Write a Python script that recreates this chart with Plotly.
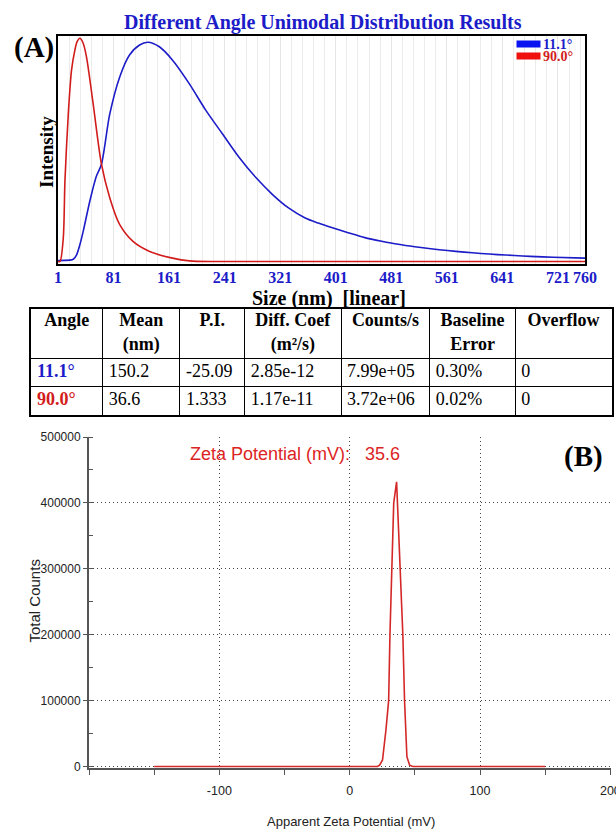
import plotly.graph_objects as go

# ---------------- data ----------------
# Panel A: intensity distributions (normalised), size in nm
size_111 = [1, 10, 18, 23, 27.8, 32.5, 37.3, 46.8, 56, 63.6, 75.5, 89.9, 104, 118.5, 130.4, 147, 166, 190,
            214, 238, 262, 286, 310, 333, 357, 376, 395, 420, 443, 467, 491, 515, 538, 562, 586, 610, 634,
            658, 681, 714, 760]
int_111 = [0.004, 0.005, 0.006, 0.01, 0.03, 0.075, 0.135, 0.27, 0.38, 0.436, 0.66, 0.827, 0.925, 0.97, 0.982,
           0.962, 0.902, 0.797, 0.677, 0.571, 0.466, 0.376, 0.30, 0.24, 0.195, 0.172, 0.152, 0.128, 0.107,
           0.091, 0.077, 0.066, 0.057, 0.049, 0.042, 0.036, 0.031, 0.027, 0.023, 0.019, 0.015]

size_900 = [1, 3.9, 8.6, 11, 15.8, 20.5, 25.3, 28.5, 32.5, 37, 42, 51.6, 63.6, 75.5, 89.9, 109, 133, 166,
            190, 230, 400, 760]
int_900 = [0, 0.0, 0.105, 0.36, 0.66, 0.857, 0.947, 0.985, 1.0, 0.98, 0.917, 0.707, 0.436, 0.286, 0.165,
           0.09, 0.045, 0.015, 0.003, 0.0, 0.0, 0.0]

size_ticks = [1, 81, 161, 241, 321, 401, 481, 561, 641, 721, 760]
series_names = ["11.1°", "90.0°"]

# Table
table_header = ["Angle", "Mean<br>(nm)", "P.I.", "Diff. Coef<br>(m²/s)", "Counts/s", "Baseline<br>Error", "Overflow"]
angles = ["11.1°", "90.0°"]
means = ["150.2", "36.6"]
pis = ["-25.09", "1.333"]
diff_coefs = ["2.85e-12", "1.17e-11"]
counts_s = ["7.99e+05", "3.72e+06"]
baseline_err = ["0.30%", "0.02%"]
overflow = ["0", "0"]

# Panel B: zeta potential distribution
zeta_mv = [-150, 21.3, 23, 25.2, 27.8, 29.9, 30.9, 32.5, 33.8, 36.0, 36.7, 39.0, 40.8, 42.1, 43.9, 46.0, 48.5, 150]
total_counts = [0, 0, 2000, 10000, 55000, 100000, 200000, 300000, 400000, 432000, 400000, 300000, 200000,
                100000, 15000, 2000, 0, 0]
zeta_ticks = [-100, 0, 100, 200]
zeta_ticktext = ["-100", "0", "100", "200"]
count_ticks = [0, 100000, 200000, 300000, 400000, 500000]
zeta_value = 35.6

# ---------------- layout helpers ----------------
W, H = 616, 829
def px(x):
    return x / W
def py(y):
    return 1 - y / H

BLUE = "#1c1cc8"
RED = "#d21c1c"
SERIF = "Liberation Serif, Times New Roman, serif"
SANS = "Liberation Sans, Arial, sans-serif"

# table geometry (style)
col_widths = [71.7, 77.2, 64.8, 96.3, 88.8, 85.5, 96.6]
row_heights = [49, 28.5, 28]
col_left = [sum(col_widths[:i]) for i in range(len(col_widths))]
col_center = [col_left[i] + col_widths[i] / 2 for i in range(len(col_widths))]
row_top = [sum(row_heights[:i]) for i in range(len(row_heights))]
row_center = [row_top[i] + row_heights[i] / 2 for i in range(len(row_heights))]
TW, TH = sum(col_widths), sum(row_heights)

fig = go.Figure()

# Panel A curves
fig.add_trace(go.Scatter(x=size_111, y=int_111, mode="lines",
                         line=dict(color=BLUE, width=1.6, shape="spline", smoothing=0.8),
                         name=series_names[0], showlegend=False, xaxis="x", yaxis="y"))
fig.add_trace(go.Scatter(x=size_900, y=int_900, mode="lines",
                         line=dict(color=RED, width=1.6, shape="spline", smoothing=0.8),
                         name=series_names[1], showlegend=False, xaxis="x", yaxis="y"))

# Table (text trace on its own axes; grid lines are the axis grid)
hdr_text = []
for h in table_header:
    parts = h.split("<br>")
    if len(parts) == 1:
        parts.append("\u00a0")
    hdr_text.append("<br>".join("<b>%s</b>" % p for p in parts))
fig.add_trace(go.Scatter(x=col_center, y=[row_center[0]] * len(hdr_text), text=hdr_text, mode="text",
                         textposition="middle center", cliponaxis=False, showlegend=False,
                         textfont=dict(family=SERIF, size=18, color="black"), xaxis="x3", yaxis="y3",
                         hoverinfo="skip"))
columns = [["<b>%s</b>" % a for a in angles], means, pis, diff_coefs, counts_s, baseline_err, overflow]
cx, cy, ct, cc = [], [], [], []
for j, col in enumerate(columns):
    for i, v in enumerate(col):
        cx.append(col_left[j] + 6)
        cy.append(row_center[i + 1])
        ct.append(v)
        cc.append([BLUE, RED][i] if j == 0 else "black")
fig.add_trace(go.Scatter(x=cx, y=cy, text=ct, mode="text", textposition="middle right", cliponaxis=False,
                         showlegend=False, textfont=dict(family=SERIF, size=18, color=cc),
                         xaxis="x3", yaxis="y3", hoverinfo="skip"))

# Panel B curve
fig.add_trace(go.Scatter(x=zeta_mv, y=total_counts, mode="lines", line=dict(color="#d42828", width=1.6),
                         showlegend=False, xaxis="x2", yaxis="y2", hoverinfo="skip"))

A_L, A_R, A_T, A_B = 58, 585, 35.5, 264
# y scale for A: value 0 at 261.5, 1.0 at 38.3
a_ppu = (261.5 - 38.3)
a_y0 = -(A_B - 261.5) / a_ppu
a_y1 = 1 + (38.3 - A_T) / a_ppu

B_L, B_R, B_T, B_B = 89, 611, 436.5, 768
b_ppu = (766.5 - 437) / 500000
b_y0 = -(B_B - 766.5) / b_ppu
b_y1 = 500000 + (437 - B_T) / b_ppu

grid_dot = "1px,3px"

annotations = [
    dict(text="<b>Different Angle Unimodal Distribution Results</b>", x=px(323), y=py(22),
         font=dict(family=SERIF, size=20, color=BLUE)),
    dict(text="<b>(A)</b>", x=px(34), y=py(47.5), font=dict(family=SERIF, size=29, color="black")),
    dict(text="<b>Intensity</b>", x=px(46.5), y=py(152.5), textangle=-90,
         font=dict(family=SERIF, size=19, color="black")),
    dict(text="<b>Size (nm)\u00a0\u00a0[linear]</b>", x=px(329), y=py(298),
         font=dict(family=SERIF, size=20, color="black")),
    dict(text="Zeta Potential (mV):\u00a0\u00a0\u00a0%.1f" % zeta_value, x=px(295), y=py(453.5),
         font=dict(family=SANS, size=18, color="#dd2424")),
    dict(text="<b>(B)</b>", x=px(583), y=py(457), font=dict(family=SERIF, size=29, color="black")),
    dict(text="Total Counts", x=px(34), y=py(601.5), textangle=-90,
         font=dict(family=SANS, size=15, color="#222")),
    dict(text="Apparent Zeta Potential (mV)", x=px(351), y=py(821),
         font=dict(family=SANS, size=13, color="#222")),
]
# legend (compact, as in the reference)
leg_colors = [("#0a14f0", BLUE), ("#f01010", RED)]
leg_y = [44, 55.5]
for k, name in enumerate(series_names):
    annotations.append(dict(text="\u00a0", x=px(A_R - 57), y=py(leg_y[k]), width=23, height=6,
                            bgcolor=leg_colors[k][0], borderpad=0, font=dict(size=4)))
    annotations.append(dict(text="<b>%s</b>" % name, x=px(A_R - 44), y=py(leg_y[k] + 1), xanchor="left",
                            font=dict(family=SERIF, size=14, color=leg_colors[k][1])))
for a in annotations:
    a.setdefault("xref", "paper")
    a.setdefault("yref", "paper")
    a.setdefault("showarrow", False)
    a.setdefault("xanchor", "center")
    a.setdefault("yanchor", "middle")

fig.update_layout(
    width=W, height=H, margin=dict(l=0, r=0, t=0, b=0, autoexpand=False),
    paper_bgcolor="white", plot_bgcolor="white",
    showlegend=False,
    xaxis=dict(domain=[px(A_L), px(A_R)], anchor="y", range=[1, 760], tickvals=size_ticks, tickangle=0,
               tickfont=dict(family=SERIF, size=16, color=BLUE, weight="bold"),
               ticks="", showgrid=True, gridcolor="#e6e6e6", gridwidth=1,
               minor=dict(tick0=1, dtick=16, showgrid=True, gridcolor="#ececec", gridwidth=1),
               showline=True, mirror=True, linecolor="black", linewidth=2, zeroline=False,
               automargin=False, ticklabelstandoff=-2, ticklabeloverflow="allow"),
    yaxis=dict(domain=[py(A_B), py(A_T)], anchor="x", range=[a_y0, a_y1], showticklabels=False,
               showgrid=False, zeroline=False, showline=True, mirror=True, linecolor="black", linewidth=2,
               ticks="", automargin=False),
    xaxis3=dict(domain=[px(31), px(31 + TW)], anchor="y3", range=[0, TW], tickvals=col_left[1:],
                showticklabels=False, ticks="", showgrid=True, gridcolor="black", gridwidth=1,
                showline=True, mirror=True, linecolor="black", linewidth=1.5, zeroline=False,
                automargin=False, fixedrange=True),
    yaxis3=dict(domain=[py(309 + TH), py(309)], anchor="x3", range=[TH, 0], tickvals=row_top[1:],
                showticklabels=False, ticks="", showgrid=True, gridcolor="black", gridwidth=1,
                showline=True, mirror=True, linecolor="black", linewidth=1.5, zeroline=False,
                automargin=False, fixedrange=True),
    xaxis2=dict(domain=[px(B_L), px(B_R)], anchor="y2", range=[-200, 200.5], tickvals=zeta_ticks,
                ticktext=zeta_ticktext, tickangle=0,
                ticks="outside", ticklen=5, tickcolor="#555", tickwidth=1,
                minor=dict(dtick=50, tick0=0, ticks="outside", ticklen=5, tickcolor="#555", showgrid=False),
                showline=True, linecolor="#555", linewidth=2, zeroline=False,
                showgrid=True, gridcolor="#444", gridwidth=1.3, griddash=grid_dot,
                tickfont=dict(family=SANS, size=12.5, color="#222"), ticklabelstandoff=5,
                ticklabeloverflow="allow", automargin=False),
    yaxis2=dict(domain=[py(B_B), py(B_T)], anchor="x2", range=[b_y0, b_y1],
                tickvals=count_ticks, tickformat="d",
                ticks="outside", ticklen=4, tickcolor="#555",
                minor=dict(dtick=50000, tick0=0, ticks="inside", ticklen=4, tickcolor="#555", showgrid=False),
                showline=True, linecolor="#555", linewidth=2, zeroline=False,
                showgrid=True, gridcolor="#444", gridwidth=1.3, griddash=grid_dot,
                tickfont=dict(family=SANS, size=12, color="#222"), ticklabeloverflow="allow",
                automargin=False),
    annotations=annotations,
)

fig.write_html("out.html")
